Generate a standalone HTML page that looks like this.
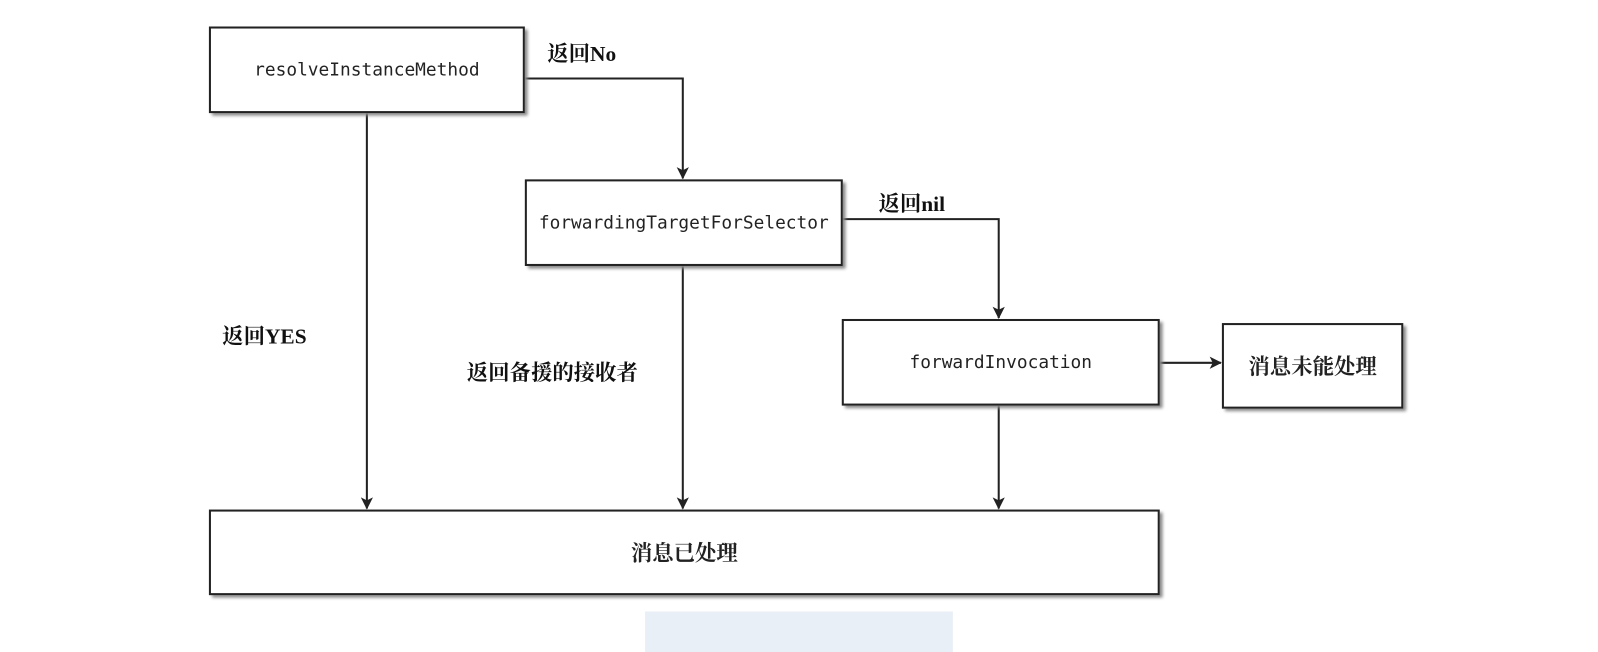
<!DOCTYPE html>
<html><head><meta charset="utf-8"><style>
body{margin:0;width:1598px;height:638px;background:#fff;overflow:hidden;position:relative}
#w{position:absolute;left:0;top:0;width:1568px;height:626px;transform:scale(1.0191);transform-origin:0 0}
.b{position:absolute;box-sizing:border-box;border:2px solid #222;background:#fff;box-shadow:3px 3px 3px #888;display:flex;align-items:center;justify-content:center;font-family:"DejaVu Sans Mono","Liberation Mono",monospace;font-size:17.5px;color:#222}
.c{font-family:"Liberation Serif","Noto Serif CJK SC",serif;font-size:21px;font-weight:bold}
.t{position:absolute;font-family:"Liberation Serif","Noto Serif CJK SC",serif;font-size:21px;color:#111;white-space:nowrap;font-weight:bold}
svg{position:absolute;left:0;top:0}
</style></head><body><div id="w">
<div style="position:absolute;left:633px;top:600px;width:302px;height:40px;background:#e9eff6"></div>
<svg width="1568" height="626">
<defs><marker id="a" markerWidth="12" markerHeight="12" refX="11" refY="6" orient="auto" markerUnits="userSpaceOnUse"><path d="M0,0 L12,6 L0,12 L3,6z" fill="#222"/></marker></defs>
<g stroke="#222" stroke-width="2" fill="none">
<path d="M514 77 H670 V175" marker-end="url(#a)"/>
<path d="M826 215 H980 V312" marker-end="url(#a)"/>
<path d="M360 110 V499" marker-end="url(#a)"/>
<path d="M670 260 V499" marker-end="url(#a)"/>
<path d="M980 397 V499" marker-end="url(#a)"/>
<path d="M1137 356 H1198" marker-end="url(#a)"/>
</g></svg>
<div class="b" style="left:205px;top:26px;width:310px;height:85px">resolveInstanceMethod</div>
<div class="b" style="left:515px;top:176px;width:312px;height:85px">forwardingTargetForSelector</div>
<div class="b" style="left:826px;top:313px;width:312px;height:85px">forwardInvocation</div>
<div class="b c" style="left:1199px;top:317px;width:178px;height:84px">消息未能处理</div>
<div class="b c" style="left:205px;top:500px;width:933px;height:84px">消息已处理</div>
<div class="t" style="left:537px;top:37px">返回No</div>
<div class="t" style="left:862px;top:184px">返回nil</div>
<div class="t" style="left:218px;top:314px">返回YES</div>
<div class="t" style="left:458px;top:350px">返回备援的接收者</div>
</div></body></html>
